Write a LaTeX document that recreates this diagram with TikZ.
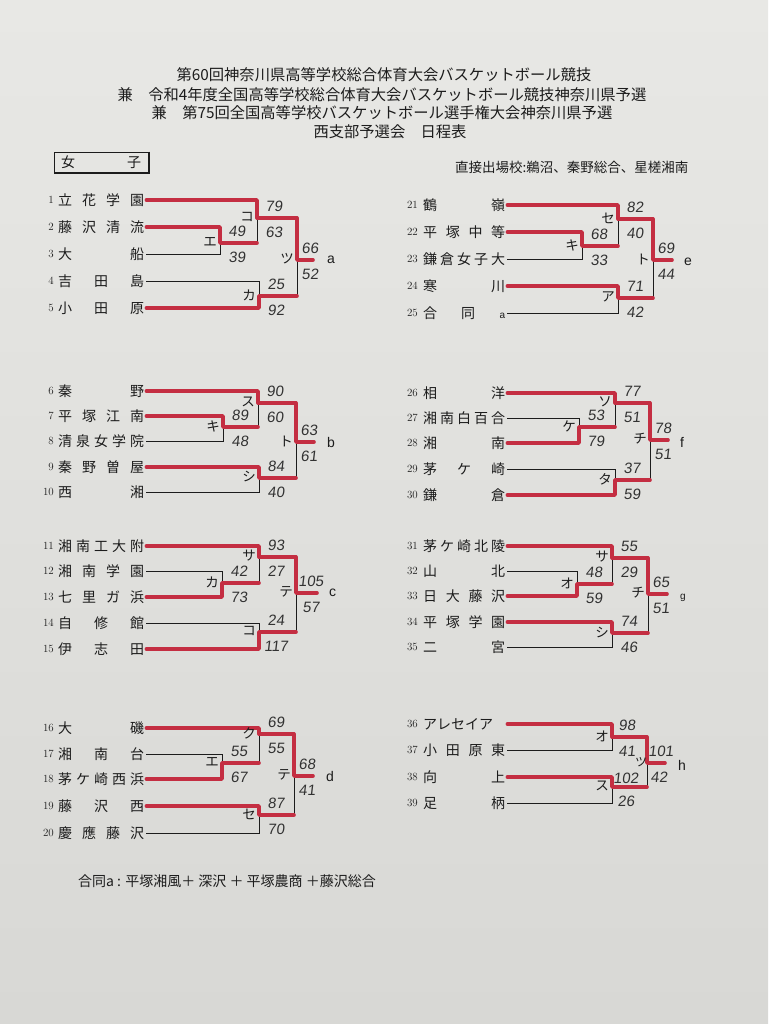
\documentclass[tikz,border=0pt]{standalone}
\usepackage{fontspec}
\newfontfamily\jp{Noto Sans CJK JP}
\newfontfamily\hand[FakeSlant=0.12]{Liberation Sans}
\newfontfamily\lat{Liberation Sans}
\definecolor{paper}{RGB}{232,232,229}
\definecolor{paperlow}{RGB}{216,216,213}
\definecolor{ink}{RGB}{28,28,28}
\definecolor{marker}{RGB}{196,46,66}
\definecolor{pencil}{RGB}{50,50,50}

\tikzset{
  wire/.style={draw=ink, line width=0.8pt},
  win/.style={draw=marker, line width=3.6pt, line cap=round, line join=round},
  num/.style={anchor=east, inner sep=0pt, font=\fontsize{11}{11}\selectfont, text=ink},
  team/.style={anchor=west, inner sep=2pt, font=\jp\fontsize{14}{14}\selectfont, text=ink},
  kana/.style={inner sep=0pt, font=\jp\fontsize{13.5}{14}\selectfont, text=ink},
  score/.style={inner sep=0pt, font=\hand\fontsize{15}{15}\selectfont, text=pencil},
  tag/.style={anchor=west, inner sep=0pt, font=\lat\fontsize{14}{14}\selectfont, text=ink},
  title/.style={inner sep=0pt, font=\jp\fontsize{15.3}{16}\selectfont, text=ink}
}

% bracket: two entries #1 and #2 meet at the vertical of match #3
\newcommand\bout[3]{\draw[wire] (#1) -- (#1 -| #3) -- (#2 -| #3) -- (#2);}
% marker over the winner: from #1 through match #2 on to #3
\newcommand\won[3]{\draw[win] (#1) -- (#1 -| #2) -- (#2) -- (#2 -| #3);}
% match letter and the two scores
\newcommand\res[5][17]{\path (#2) ++(-10,-1) node[kana] (#2-k) {#3}
  (#2) ++(#1,-12) node[score] (#2-a) {#4}
  (#2) ++(#1,14) node[score] (#2-b) {#5};}

\begin{document}
\begin{tikzpicture}[x=1pt, y=-1pt]
  \useasboundingbox (0,0) rectangle (768,1024);
  \shade[top color=paper, bottom color=paperlow] (0,0) rectangle (768,1024);

  % heading
  \node[title] (h1) at (384,75) {第60回神奈川県高等学校総合体育大会バスケットボール競技};
  \node[title] (h2) at (382,95) {兼　令和4年度全国高等学校総合体育大会バスケットボール競技神奈川県予選};
  \node[title] (h3) at (382,113) {兼　第75回全国高等学校バスケットボール選手権大会神奈川県予選};
  \node[title] (h4) at (390,132) {西支部予選会　日程表};
  \node[draw=ink, line width=0.9pt, minimum width=94pt, minimum height=20pt, inner sep=0pt,
        font=\jp\fontsize{14}{14}\selectfont, text=ink] (girls) at (101,162) {\makebox[80pt][s]{女 子}};
  \draw[ink, line width=1.8pt] ([xshift=0.9pt]girls.north east) -- ([xshift=0.9pt,yshift=-0.9pt]girls.south east)
    -- ([yshift=-0.9pt]girls.south west);
  \node[anchor=west, inner sep=0pt, font=\jp\fontsize{13.5}{14}\selectfont, text=ink] (direct) at (455,167)
    {直接出場校:鵜沼、秦野総合、星槎湘南};

  % teams
  \foreach \i/\yy/\nm in {1/200/{立 花 学 園}, 2/227/{藤 沢 清 流}, 3/254/{大 船}, 4/281/{吉 田 島}, 5/308/{小 田 原},
      6/391/{秦 野}, 7/416/{平 塚 江 南}, 8/441/{清 泉 女 学 院}, 9/467/{秦 野 曽 屋}, 10/492/{西 湘},
      11/546/{湘 南 工 大 附}, 12/571/{湘 南 学 園}, 13/597/{七 里 ガ 浜}, 14/623/{自 修 館}, 15/649/{伊 志 田},
      16/728/{大 磯}, 17/754/{湘 南 台}, 18/779/{茅 ケ 崎 西 浜}, 19/806/{藤 沢 西}, 20/833/{慶 應 藤 沢}}{
    \node[num] (n\i) at (54,\yy) {\i};
    \node[team] (t\i) at (56,\yy) {\makebox[86pt][s]{\nm}};
  }
  \foreach \i/\yy/\nm in {21/205/{鶴 嶺}, 22/232/{平 塚 中 等}, 23/259/{鎌 倉 女 子 大}, 24/286/{寒 川},
      25/313/{合\hspace{24pt}同\hfill{\lat\fontsize{10}{10}\selectfont a}},
      26/393/{相 洋}, 27/418/{湘 南 白 百 合}, 28/443/{湘 南}, 29/469/{茅 ケ 崎}, 30/495/{鎌 倉},
      31/546/{茅 ケ 崎 北 陵}, 32/571/{山 北}, 33/596/{日 大 藤 沢}, 34/622/{平 塚 学 園}, 35/647/{二 宮},
      36/724/{アレセイア}, 37/750/{小 田 原 東}, 38/777/{向 上}, 39/803/{足 柄}}{
    \node[num] (n\i) at (418,\yy) {\i};
    \node[team] (t\i) at (421,\yy) {\makebox[82pt][s]{\nm}};
  }

  % block a
  \coordinate (Ae) at (220,243);
  \coordinate (Ak) at (257,218);
  \coordinate (Ac) at (259,296);
  \coordinate (At) at (297,260);
  \coordinate (Az) at (313,260);
  \bout{t2.east}{t3.east}{Ae}
  \bout{t1.east}{Ae}{Ak}
  \bout{t4.east}{t5.east}{Ac}
  \bout{Ak}{Ac}{At}
  \draw[wire] (At) -- (Az);
  \won{t2.east}{Ae}{Ak}
  \won{t1.east}{Ak}{At}
  \won{t5.east}{Ac}{At}
  \won{Ak}{At}{Az}
  \res{Ae}{エ}{49}{39}
  \res{Ak}{コ}{79}{63}
  \res{Ac}{カ}{25}{92}
  \res[13]{At}{ツ}{66}{52}
  \node[tag] (ga) at (327,260) {a};

  % block b
  \coordinate (Bk) at (223,427);
  \coordinate (Bs) at (258,403);
  \coordinate (Bh) at (259,478);
  \coordinate (Bt) at (296,442);
  \coordinate (Bz) at (314,442);
  \bout{t7.east}{t8.east}{Bk}
  \bout{t6.east}{Bk}{Bs}
  \bout{t9.east}{t10.east}{Bh}
  \bout{Bs}{Bh}{Bt}
  \draw[wire] (Bt) -- (Bz);
  \won{t7.east}{Bk}{Bs}
  \won{t6.east}{Bs}{Bt}
  \won{t9.east}{Bh}{Bt}
  \won{Bs}{Bt}{Bz}
  \res{Bk}{キ}{89}{48}
  \res{Bs}{ス}{90}{60}
  \res{Bh}{シ}{84}{40}
  \res[13]{Bt}{ト}{63}{61}
  \node[tag] (gb) at (327,442) {b};

  % block c
  \coordinate (Cf) at (222,583);
  \coordinate (Cs) at (259,557);
  \coordinate (Ck) at (259,632);
  \coordinate (Ct) at (296,593);
  \coordinate (Cz) at (317,593);
  \bout{t12.east}{t13.east}{Cf}
  \bout{t11.east}{Cf}{Cs}
  \bout{t14.east}{t15.east}{Ck}
  \bout{Cs}{Ck}{Ct}
  \draw[wire] (Ct) -- (Cz);
  \won{t13.east}{Cf}{Cs}
  \won{t11.east}{Cs}{Ct}
  \won{t15.east}{Ck}{Ct}
  \won{Cs}{Ct}{Cz}
  \res{Cf}{カ}{42}{73}
  \res{Cs}{サ}{93}{27}
  \res{Ck}{コ}{24}{117}
  \res[15]{Ct}{テ}{105}{57}
  \node[tag] (gc) at (329,593) {c};

  % block d
  \coordinate (De) at (222,763);
  \coordinate (Dk) at (259,734);
  \coordinate (Ds) at (259,815);
  \coordinate (Dt) at (294,776);
  \coordinate (Dz) at (313,776);
  \bout{t17.east}{t18.east}{De}
  \bout{t16.east}{De}{Dk}
  \bout{t19.east}{t20.east}{Ds}
  \bout{Dk}{Ds}{Dt}
  \draw[wire] (Dt) -- (Dz);
  \won{t18.east}{De}{Dk}
  \won{t16.east}{Dk}{Dt}
  \won{t19.east}{Ds}{Dt}
  \won{Dk}{Dt}{Dz}
  \res{De}{エ}{55}{67}
  \res{Dk}{ク}{69}{55}
  \res{Ds}{セ}{87}{70}
  \res[13]{Dt}{テ}{68}{41}
  \node[tag] (gd) at (326,776) {d};

  % block e
  \coordinate (Ek) at (582,246);
  \coordinate (Es) at (618,219);
  \coordinate (Ea) at (618,298);
  \coordinate (Et) at (653,260);
  \coordinate (Ez) at (672,260);
  \bout{t22.east}{t23.east}{Ek}
  \bout{t21.east}{Ek}{Es}
  \bout{t24.east}{t25.east}{Ea}
  \bout{Es}{Ea}{Et}
  \draw[wire] (Et) -- (Ez);
  \won{t22.east}{Ek}{Es}
  \won{t21.east}{Es}{Et}
  \won{t24.east}{Ea}{Et}
  \won{Es}{Et}{Ez}
  \res{Ek}{キ}{68}{33}
  \res{Es}{セ}{82}{40}
  \res{Ea}{ア}{71}{42}
  \res[13]{Et}{ト}{69}{44}
  \node[tag] (ge) at (684,262) {e};

  % block f
  \coordinate (Fk) at (579,427);
  \coordinate (Fs) at (615,403);
  \coordinate (Ft) at (615,480);
  \coordinate (Fc) at (650,440);
  \coordinate (Fz) at (668,440);
  \bout{t27.east}{t28.east}{Fk}
  \bout{t26.east}{Fk}{Fs}
  \bout{t29.east}{t30.east}{Ft}
  \bout{Fs}{Ft}{Fc}
  \draw[wire] (Fc) -- (Fz);
  \won{t28.east}{Fk}{Fs}
  \won{t26.east}{Fs}{Fc}
  \won{t30.east}{Ft}{Fc}
  \won{Fs}{Fc}{Fz}
  \res{Fk}{ケ}{53}{79}
  \res{Fs}{ソ}{77}{51}
  \res{Ft}{タ}{37}{59}
  \res[13]{Fc}{チ}{78}{51}
  \node[tag] (gf) at (680,442) {f};

  % block g
  \coordinate (Go) at (577,584);
  \coordinate (Gs) at (612,558);
  \coordinate (Gh) at (612,633);
  \coordinate (Gc) at (648,594);
  \coordinate (Gz) at (667,594);
  \bout{t32.east}{t33.east}{Go}
  \bout{t31.east}{Go}{Gs}
  \bout{t34.east}{t35.east}{Gh}
  \bout{Gs}{Gh}{Gc}
  \draw[wire] (Gc) -- (Gz);
  \won{t33.east}{Go}{Gs}
  \won{t31.east}{Gs}{Gc}
  \won{t34.east}{Gh}{Gc}
  \won{Gs}{Gc}{Gz}
  \res{Go}{オ}{48}{59}
  \res{Gs}{サ}{55}{29}
  \res{Gh}{シ}{74}{46}
  \res[13]{Gc}{チ}{65}{51}
  \node[tag, font=\lat\fontsize{10}{10}\selectfont] (gg) at (680,598) {g};

  % block h
  \coordinate (Ho) at (612,737);
  \coordinate (Hs) at (612,787);
  \coordinate (Ht) at (647,763);
  \coordinate (Hz) at (665,763);
  \bout{t36.east}{t37.east}{Ho}
  \bout{t38.east}{t39.east}{Hs}
  \bout{Ho}{Hs}{Ht}
  \draw[wire] (Ht) -- (Hz);
  \won{t36.east}{Ho}{Ht}
  \won{t38.east}{Hs}{Ht}
  \won{Ho}{Ht}{Hz}
  \res[15]{Ho}{オ}{98}{41}
  \path (Hs) ++(-10,-1) node[kana] (Hs-k) {ス}
    (Hs) ++(14,-9) node[score] (Hs-a) {102}
    (Hs) ++(14,14) node[score] (Hs-b) {26};
  \path (Ht) ++(-6,-1) node[kana, font=\jp\fontsize{12}{12}\selectfont] (Ht-k) {ツ}
    (Ht) ++(14,-12) node[score] (Ht-a) {101}
    (Ht) ++(12,14) node[score] (Ht-b) {42};
  \node[tag] (gh) at (678,765) {h};

  % footnote
  \node[anchor=west, inner sep=0pt, font=\jp\fontsize{14}{14}\selectfont, text=ink] (note) at (78,881)
    {合同a : 平塚湘風＋ 深沢 ＋ 平塚農商 ＋藤沢総合};
\end{tikzpicture}
\end{document}
